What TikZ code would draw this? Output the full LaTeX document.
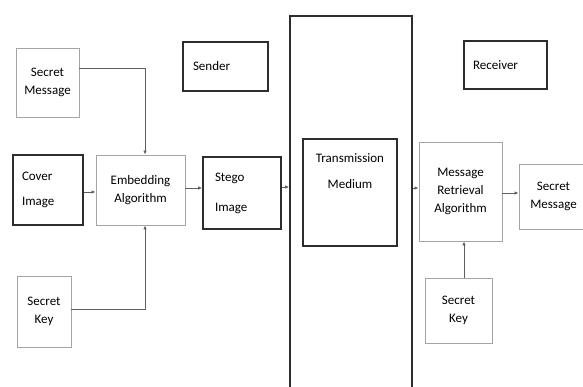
\documentclass[tikz,border=0pt]{standalone}
\usepackage{fontspec}
\setmainfont{Carlito}
\usetikzlibrary{calc, positioning, arrows.meta}
\definecolor{boxDark}{RGB}{45, 45, 45}
\definecolor{boxLight}{RGB}{165, 165, 165}
\definecolor{lineGray}{RGB}{95, 95, 95}

\begin{document}
\begin{tikzpicture}[x=1pt, y=-1pt, font=\fontsize{13}{18}\selectfont,
    darkbox/.style={draw=boxDark, line width=1.6pt, inner ysep=0pt, align=left},
    lightbox/.style={draw=boxLight, line width=0.9pt, inner sep=0pt, align=center},
    flow/.style={draw=lineGray, line width=0.9pt, -{Latex[length=4pt, width=3.5pt]}}]
  \useasboundingbox (0,0) rectangle (583,387);
  \clip (0,0) rectangle (583,387);

  % Sender side
  \node[lightbox, minimum width=63pt, minimum height=69pt] (msgIn) at (47.5, 82.5) {Secret\\Message};
  \node[darkbox, inner xsep=10pt, text width=65pt, minimum height=49pt] (sender) at (225.5, 66.5) {Sender};
  \node[darkbox, inner xsep=9pt, text width=52pt, minimum height=70pt] (cover) at (48, 190) {Cover\\[7pt]Image};
  \node[lightbox, minimum width=89pt, minimum height=70pt] (embed) at (140.5, 190) {Embedding\\Algorithm};
  \node[darkbox, inner xsep=12pt, text width=54pt, minimum height=72pt] (stego) at (242, 193) {Stego\\[12pt]Image};
  \node[lightbox, minimum width=54pt, minimum height=71pt] (keyIn) at (44, 311.5) {Secret\\Key};

  % Channel (runs past the bottom edge)
  \node[darkbox, minimum width=122pt, minimum height=404pt] (channel) at (351, 218) {};
  \node[darkbox, minimum width=94pt, minimum height=107pt,
        label={[anchor=north, yshift=-12pt, align=center]north:{Transmission\\[8pt]Medium}}] (medium) at (350, 192.5) {};

  % Receiver side
  \node[darkbox, inner xsep=9pt, text width=65pt, minimum height=48pt] (receiver) at (505.5, 65) {Receiver};
  \node[lightbox, minimum width=83pt, minimum height=99pt] (retrieve) at (460.5, 191.5) {Message\\Retrieval\\Algorithm};
  \node[lightbox, minimum width=69pt, minimum height=65pt] (msgOut) at (553.5, 196.5) {Secret\\Message};
  \node[lightbox, minimum width=67pt, minimum height=65pt] (keyOut) at (458.5, 310.5) {Secret\\Key};

  % Connectors
  \draw[flow] ([yshift=14pt]msgIn.east) -| ([xshift=4.5pt]embed.north);
  \draw[flow] ([yshift=2.5pt]keyIn.east) -| ([xshift=4.5pt]embed.south);
  \draw[flow] ([yshift=-2pt]cover.east) -- ([yshift=-2pt]embed.west);
  \draw[flow] ([yshift=2pt]embed.east) -- ([yshift=2pt]embed.east -| stego.west);
  \draw[flow] ([yshift=6pt]stego.east) -- ([yshift=6pt]stego.east -| channel.west);
  \draw[flow] ([yshift=3.5pt]channel.east |- retrieve.west) -- ([yshift=3.5pt]retrieve.west);
  \draw[flow] ([yshift=-1.5pt]retrieve.east) -- ([yshift=-1.5pt]retrieve.east -| msgOut.west);
  \draw[flow] ([xshift=5.5pt]keyOut.north) -- ([xshift=5.5pt]keyOut.north |- retrieve.south);
\end{tikzpicture}
\end{document}
